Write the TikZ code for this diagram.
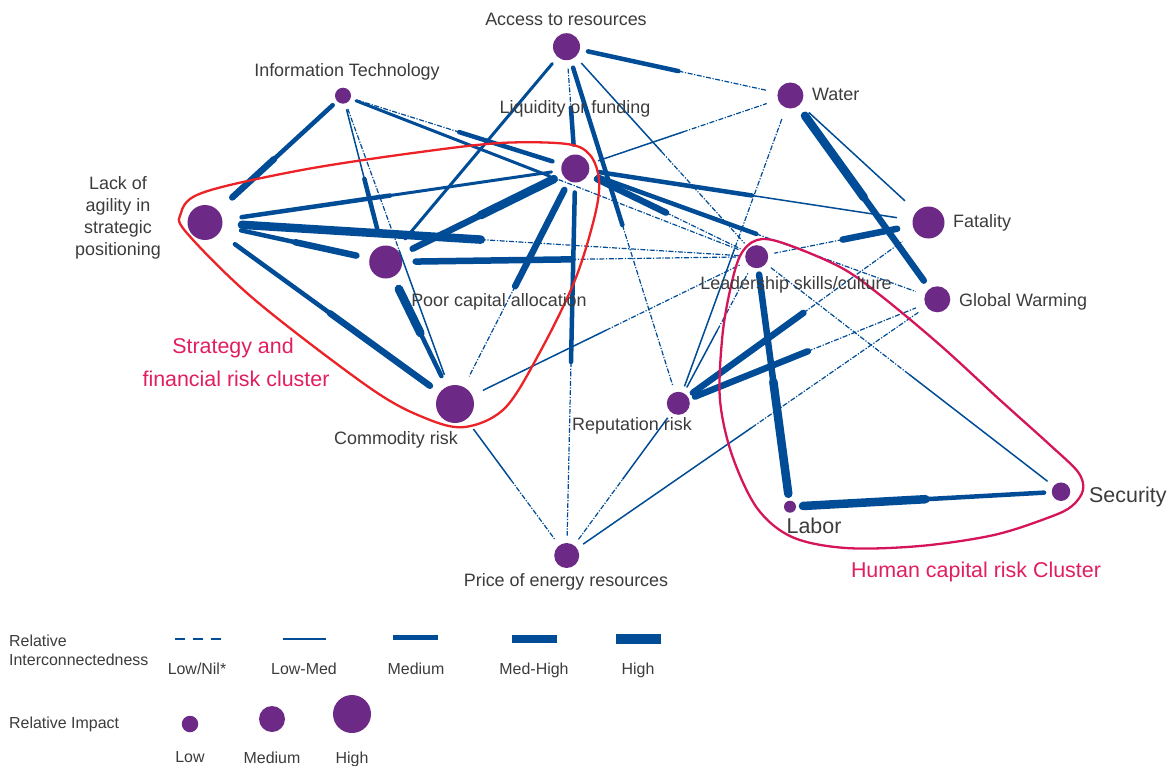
\documentclass[tikz,border=0pt]{standalone}
\usepackage{fontspec}
\setmainfont{Liberation Sans}
\usetikzlibrary{calc}
\definecolor{nodepurple}{RGB}{108,42,134}
\definecolor{edgeblue}{RGB}{0,76,151}
\definecolor{txtgray}{RGB}{60,60,60}
\definecolor{clusterred}{RGB}{236,34,39}
\definecolor{clustercrimson}{RGB}{214,20,90}
\definecolor{clusterlabel}{RGB}{225,30,95}
\tikzset{
  risk/.style={circle, fill=nodepurple, inner sep=0pt, minimum size=#1},
  lbl/.style={text=txtgray, font=\fontsize{18}{22}\selectfont, inner sep=0pt},
  biglbl/.style={text=txtgray, font=\fontsize{21.5}{26}\selectfont, inner sep=0pt},
  clbl/.style={text=clusterlabel, font=\fontsize{21.5}{26}\selectfont, inner sep=0pt},
  leglbl/.style={text=txtgray, font=\fontsize{16}{19}\selectfont, inner sep=0pt},
  eNil/.style={draw=edgeblue, line width=1.2bp, dash pattern=on 5bp off 1.6bp on 1.2bp off 1.6bp},
  eThin/.style={draw=edgeblue, line width=1.5bp},
  eLM/.style={draw=edgeblue, line width=3bp, line cap=round},
  eMed/.style={draw=edgeblue, line width=4.5bp, line cap=round},
  eMH/.style={draw=edgeblue, line width=6.5bp, line cap=round},
  eHi/.style={draw=edgeblue, line width=8.5bp, line cap=round},
  legbar/.style={draw=edgeblue, line cap=butt},
}
\def\clrAR{22bp}\def\clrIT{14bp}\def\clrLF{24bp}\def\clrW{25bp}
\def\clrLA{37bp}\def\clrPC{30bp}\def\clrF{32bp}\def\clrLS{18bp}
\def\clrGW{23bp}\def\clrCR{31bp}\def\clrRR{18bp}\def\clrL{13bp}
\def\clrS{17bp}\def\clrPE{20bp}
\newcommand\riskedge[4]{%
  \edef\myclrA{\csname clr#1\endcsname}%
  \edef\myclrB{\csname clr#2\endcsname}%
  \draw[#3] ($(#1)!\myclrA!(#2)$) -- ($(#1)!0.5!(#2)$);
  \draw[#4] ($(#1)!0.5!(#2)$) -- ($(#2)!\myclrB!(#1)$);
}
\begin{document}
\begin{tikzpicture}[x=1bp,y=-1bp]
\useasboundingbox[fill=white] (0,0) rectangle (1169,766);
% risk nodes
\node[risk=27bp] (AR) at (566.5,46.7) {};
\node[risk=16bp] (IT) at (343,95.7) {};
\node[risk=28bp] (LF) at (575.3,168.5) {};
\node[risk=26bp] (W) at (790.4,95.5) {};
\node[risk=35bp] (LA) at (205,222.5) {};
\node[risk=33bp] (PC) at (385.7,262) {};
\node[risk=32bp] (F) at (928.5,222.5) {};
\node[risk=23bp] (LS) at (756.7,256.7) {};
\node[risk=26bp] (GW) at (937.3,299.3) {};
\node[risk=38bp] (CR) at (455,404) {};
\node[risk=23bp] (RR) at (678.3,403.3) {};
\node[risk=12bp] (L) at (790,506.7) {};
\node[risk=18.5bp] (S) at (1061,491.7) {};
\node[risk=25bp] (PE) at (566.7,555.5) {};
% connectors
\riskedge{AR}{W}{eMed}{eNil}
\riskedge{AR}{PC}{eLM}{eLM}
\riskedge{AR}{LF}{eNil}{eMed}
\riskedge{AR}{RR}{eMed}{eNil}
\riskedge{AR}{LS}{eThin}{eNil}
\riskedge{IT}{LA}{eMed}{eMH}
\riskedge{IT}{LF}{eNil}{eMed}
\riskedge{IT}{LS}{eLM}{eNil}
\riskedge{IT}{PC}{eThin}{eMed}
\riskedge{IT}{CR}{eNil}{eThin}
\riskedge{LA}{LF}{eMed}{eLM}
\riskedge{LA}{LS}{eHi}{eNil}
\riskedge{LA}{PC}{eMed}{eMH}
\riskedge{LA}{CR}{eMed}{eMH}
\riskedge{PC}{LF}{eMH}{eHi}
\riskedge{PC}{LS}{eMH}{eNil}
\riskedge{PC}{CR}{eHi}{eMed}
\riskedge{LF}{W}{eThin}{eNil}
\riskedge{LF}{F}{eMed}{eThin}
\riskedge{LF}{LS}{eMH}{eNil}
\riskedge{LF}{GW}{eMed}{eNil}
\riskedge{LF}{CR}{eMH}{eNil}
\riskedge{LF}{PE}{eMed}{eNil}
\riskedge{W}{F}{eThin}{eThin}
\riskedge{W}{GW}{eHi}{eMH}
\riskedge{W}{RR}{eNil}{eThin}
\riskedge{F}{LS}{eMH}{eNil}
\riskedge{RR}{F}{eMH}{eNil}
\riskedge{RR}{GW}{eMH}{eNil}
\riskedge{PE}{GW}{eThin}{eNil}
\riskedge{LS}{L}{eMH}{eHi}
\riskedge{LS}{S}{eNil}{eThin}
\riskedge{RR}{LS}{eThin}{eNil}
\riskedge{PE}{RR}{eNil}{eThin}
\riskedge{CR}{PE}{eThin}{eNil}
\riskedge{CR}{LS}{eThin}{eNil}
\riskedge{L}{S}{eHi}{eMed}
% clusters
\draw[clusterred, line width=2.3bp] plot[smooth cycle, tension=0.55] coordinates {
 (181,213) (193,197) (230,185) (313,168) (413,153) (500,143) (567,144)
 (590,155) (599,180) (595,215) (575,280) (540,352) (505,408) (465,427)
 (425,418) (370,388) (255,300) (186,232)};
\draw[clustercrimson, line width=2.3bp] plot[smooth cycle, tension=0.55] coordinates {
 (720,400) (722,340) (729,295) (740,256) (757,240) (783,243) (840,267)
 (880,295) (940,345) (1000,400) (1050,445) (1078,472) (1083,490) (1072,506)
 (1050,517) (994,535) (920,546) (846,548) (792,537) (757,508) (732,455)};
% labels
\node[lbl, anchor=base] (ARl) at (566,25.5) {Access to resources};
\node[lbl, anchor=base] (ITl) at (347,76.5) {Information Technology};
\node[lbl, anchor=base] (LFl) at (575,113.5) {Liquidity or funding};
\node[lbl, anchor=base west] (Wl) at (812,100.5) {Water};
\node[lbl, align=center] (LAl) at (118,218) {Lack of\\agility in\\strategic\\positioning};
\node[lbl, anchor=base] (PCl) at (499,306.5) {Poor capital allocation};
\node[lbl, anchor=base west] (Fl) at (953,227.5) {Fatality};
\node[lbl, anchor=base] (LSl) at (796,289.5) {Leadership skills/culture};
\node[lbl, anchor=base west] (GWl) at (959,306.5) {Global Warming};
\node[lbl, anchor=base] (CRl) at (396,444.5) {Commodity risk};
\node[lbl, anchor=base] (RRl) at (632,430.5) {Reputation risk};
\node[lbl, anchor=base] (PEl) at (566,586.5) {Price of energy resources};
\node[biglbl, anchor=base] (Ll) at (814,533.5) {Labor};
\node[biglbl, anchor=base west] (Sl) at (1089,502.5) {Security};
\node[clbl, anchor=base] (SC1) at (233,353.5) {Strategy and};
\node[clbl, anchor=base] (SC2) at (236,386.5) {financial risk cluster};
\node[clbl, anchor=base] (HC) at (976,577.5) {Human capital risk Cluster};
% legend
\node[leglbl, align=left, anchor=west] (legI) at (9,650) {Relative\\Interconnectedness};
\draw[legbar, line width=2.5bp, dash pattern=on 10bp off 8bp] (175,639) -- (221,639);
\draw[legbar, line width=2.5bp] (283,639) -- (326,639);
\draw[legbar, line width=5bp] (393,637) -- (438,637);
\draw[legbar, line width=7.5bp] (512,639) -- (557,639);
\draw[legbar, line width=10bp] (616,639) -- (661,639);
\node[leglbl, anchor=base] (lg1) at (197,674.5) {Low/Nil*};
\node[leglbl, anchor=base] (lg2) at (304,674.5) {Low-Med};
\node[leglbl, anchor=base] (lg3) at (416,674.5) {Medium};
\node[leglbl, anchor=base] (lg4) at (534,674.5) {Med-High};
\node[leglbl, anchor=base] (lg5) at (638,674.5) {High};
\node[leglbl, anchor=base west] (legR) at (9,728.5) {Relative Impact};
\node[risk=16.5bp] (cLow) at (190,724) {};
\node[risk=26bp] (cMed) at (272,719) {};
\node[risk=38bp] (cHigh) at (352,714) {};
\node[leglbl, anchor=base] (lc1) at (190,762.5) {Low};
\node[leglbl, anchor=base] (lc2) at (272,763.5) {Medium};
\node[leglbl, anchor=base] (lc3) at (352,763.5) {High};
\end{tikzpicture}
\end{document}
